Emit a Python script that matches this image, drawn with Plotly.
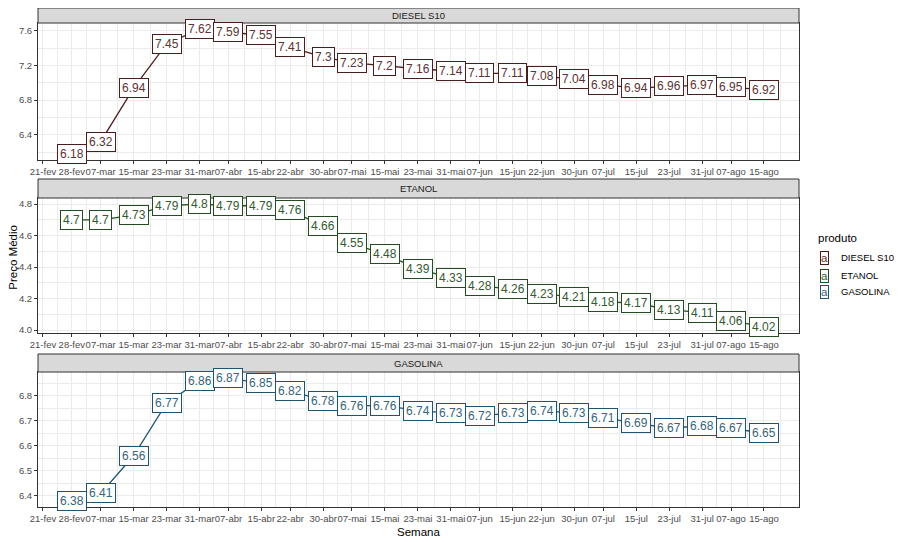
import pandas as pd
import plotly.graph_objects as go

# Semanas (eixo x) e rótulos
datas_ticks = ["2022-02-21", "2022-02-28", "2022-03-07", "2022-03-15", "2022-03-23",
               "2022-03-31", "2022-04-07", "2022-04-15", "2022-04-22", "2022-04-30",
               "2022-05-07", "2022-05-15", "2022-05-23", "2022-05-31", "2022-06-07",
               "2022-06-15", "2022-06-22", "2022-06-30", "2022-07-07", "2022-07-15",
               "2022-07-23", "2022-07-31", "2022-08-07", "2022-08-15"]
rotulos_ticks = ["21-fev", "28-fev", "07-mar", "15-mar", "23-mar", "31-mar", "07-abr",
                 "15-abr", "22-abr", "30-abr", "07-mai", "15-mai", "23-mai", "31-mai",
                 "07-jun", "15-jun", "22-jun", "30-jun", "07-jul", "15-jul", "23-jul",
                 "31-jul", "07-ago", "15-ago"]
semanas = datas_ticks[1:]

produtos = ["DIESEL S10", "ETANOL", "GASOLINA"]
diesel = [6.18, 6.32, 6.94, 7.45, 7.62, 7.59, 7.55, 7.41, 7.3, 7.23, 7.2, 7.16,
          7.14, 7.11, 7.11, 7.08, 7.04, 6.98, 6.94, 6.96, 6.97, 6.95, 6.92]
etanol = [4.7, 4.7, 4.73, 4.79, 4.8, 4.79, 4.79, 4.76, 4.66, 4.55, 4.48, 4.39,
          4.33, 4.28, 4.26, 4.23, 4.21, 4.18, 4.17, 4.13, 4.11, 4.06, 4.02]
gasolina = [6.38, 6.41, 6.56, 6.77, 6.86, 6.87, 6.85, 6.82, 6.78, 6.76, 6.76, 6.74,
            6.73, 6.72, 6.73, 6.74, 6.73, 6.71, 6.69, 6.67, 6.68, 6.67, 6.65]

series = [diesel, etanol, gasolina]
cores = ["#4b1e1e", "#234d20", "#1f5470"]
cores_texto = ["#5a3333", "#335a33", "#36647a"]

# layout das facetas (estilo ggplot facet_wrap)
dom_painel = [[0.6954, 0.9699], [0.3487, 0.6192], [0.0, 0.2705]]
dom_strip = [[0.9699, 1.0], [0.6192, 0.6573], [0.2705, 0.3066]]
faixas_y = [[6.108, 7.692], [3.981, 4.839], [6.3555, 6.8945]]
ticks_y = [[6.4, 6.8, 7.2, 7.6], [4.0, 4.2, 4.4, 4.6, 4.8], [6.4, 6.5, 6.6, 6.7, 6.8]]
minor_y = [0.2, 0.1, 0.05]

d = pd.to_datetime(datas_ticks)
minor_x = list(d[:-1] + (d[1:] - d[:-1]) / 2) + [d[-1] + pd.Timedelta(days=4)]
minor_x = [t.strftime("%Y-%m-%d %H:%M") for t in minor_x]

fonte = "Liberation Sans, Arial, sans-serif"
cinza_grid = "#ebebeb"
borda = "#333333"

fig = go.Figure()
anots = []
shapes = []

for i, (prod, vals) in enumerate(zip(produtos, series)):
    n = "" if i == 0 else str(i + 1)
    fig.add_trace(go.Scatter(
        x=semanas, y=vals, mode="lines",
        line=dict(color=cores[i], width=1.3),
        xaxis="x" + n, yaxis="y" + n, showlegend=False, name=prod
    ))
    for s, v in zip(semanas, vals):
        anots.append(dict(
            x=s, y=v, xref="x" + n, yref="y" + n, text=f"{v:g}", showarrow=False,
            font=dict(family=fonte, size=12, color=cores_texto[i]),
            bgcolor="white", bordercolor=cores[i], borderwidth=1, borderpad=2,
            xanchor="center", yanchor="middle"
        ))
    fig.update_layout(**{
        "xaxis" + n: dict(
            domain=[0, 1], anchor="y" + n, type="date",
            range=["2022-02-19 19:00", "2022-08-23 12:00"],
            tickmode="array", tickvals=datas_ticks, ticktext=rotulos_ticks,
            tickfont=dict(family=fonte, size=9.5, color="#4d4d4d"),
            ticks="outside", ticklen=3, tickcolor=borda, tickangle=0,
            showgrid=True, gridcolor=cinza_grid, gridwidth=1,
            minor=dict(tickmode="array", tickvals=minor_x, showgrid=True,
                       gridcolor=cinza_grid, gridwidth=0.6),
            showline=True, linecolor=borda, linewidth=1, mirror=True,
            zeroline=False, automargin=False
        ),
        "yaxis" + n: dict(
            domain=dom_painel[i], anchor="x" + n, range=faixas_y[i],
            tickmode="array", tickvals=ticks_y[i], tickformat=".1f",
            tickfont=dict(family=fonte, size=9.5, color="#4d4d4d"),
            ticks="outside", ticklen=3, tickcolor=borda,
            showgrid=True, gridcolor=cinza_grid, gridwidth=1,
            minor=dict(dtick=minor_y[i], tick0=ticks_y[i][0], showgrid=True,
                       gridcolor=cinza_grid, gridwidth=0.6),
            showline=True, linecolor=borda, linewidth=1, mirror=True,
            zeroline=False, automargin=False
        )
    })
    # faixa do título da faceta
    shapes.append(dict(type="rect", xref="paper", yref="paper", x0=0, x1=1,
                       y0=dom_strip[i][0], y1=dom_strip[i][1],
                       fillcolor="#d9d9d9", line=dict(color=borda, width=1), layer="above"))
    anots.append(dict(x=0.5, y=sum(dom_strip[i]) / 2, xref="paper", yref="paper",
                      text=prod, showarrow=False, xanchor="center", yanchor="middle",
                      font=dict(family=fonte, size=9.5, color="#1a1a1a")))

# títulos dos eixos
anots.append(dict(x=0.5, y=-0.034, xref="paper", yref="paper", text="Semana",
                  showarrow=False, xanchor="center", yanchor="top",
                  font=dict(family=fonte, size=11.5, color="black")))
anots.append(dict(x=-0.034, y=0.5, xref="paper", yref="paper", text="Preço Médio",
                  showarrow=False, textangle=-90, xanchor="center", yanchor="middle",
                  font=dict(family=fonte, size=11.5, color="black")))

# legenda manual (chaves de geom_label)
anots.append(dict(x=1.0223, y=0.539, xref="paper", yref="paper", text="produto",
                  showarrow=False, xanchor="left", yanchor="middle",
                  font=dict(family=fonte, size=11.5, color="black")))
leg_y = [0.499, 0.463, 0.431]
for i, prod in enumerate(produtos):
    anots.append(dict(x=1.0329, y=leg_y[i], xref="paper", yref="paper", text="a",
                      showarrow=False, xanchor="center", yanchor="middle",
                      font=dict(family=fonte, size=11.5, color=cores_texto[i]),
                      bgcolor="white", bordercolor=cores[i], borderwidth=1, borderpad=0))
    anots.append(dict(x=1.0526, y=leg_y[i], xref="paper", yref="paper", text=prod,
                      showarrow=False, xanchor="left", yanchor="middle",
                      font=dict(family=fonte, size=9.5, color="black")))

# a página tem margem de 8 px no body: figura 894x534
fig.update_layout(
    width=894, height=534,
    margin=dict(l=30, r=103, t=0, b=35),
    plot_bgcolor="white", paper_bgcolor="white",
    annotations=anots, shapes=shapes, showlegend=False
)

fig.write_html("out.html")
